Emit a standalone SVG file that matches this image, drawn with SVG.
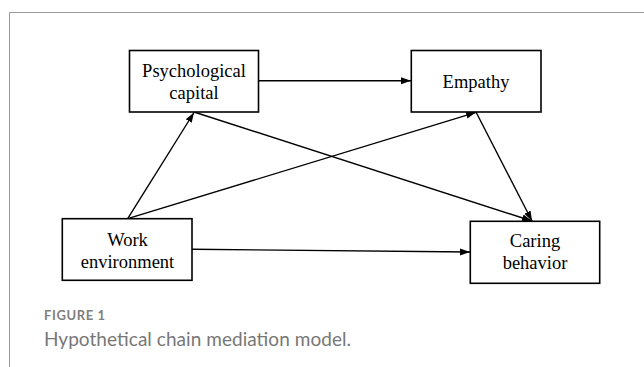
<svg xmlns="http://www.w3.org/2000/svg" width="644" height="367" viewBox="0 0 644 367">
<style>
.box{fill:#fff;stroke:#000;stroke-width:1.6}
.lbl{font-family:"Liberation Serif",serif;font-size:18.5px;fill:#000;text-anchor:middle}
.conn{stroke:#000;stroke-width:1.4;fill:none;marker-end:url(#ah)}
.frame{stroke:#999;stroke-width:1;fill:none}
.fig{font-family:Lato,"Open Sans",sans-serif;font-size:13px;font-weight:bold;fill:#808080;letter-spacing:0.6px}
.cap{font-family:Lato,"Open Sans",sans-serif;font-size:19px;fill:#777}
</style>
<defs>
<marker id="ah" viewBox="0 0 10 10" refX="10" refY="5" markerWidth="10" markerHeight="10" markerUnits="userSpaceOnUse" orient="auto">
<path d="M0,1.5 L10,5 L0,8.5 z" fill="#000"/>
</marker>
</defs>
<path class="frame" d="M9.5,367 V12.5 H644"/>
<g id="connectors">
<line class="conn" x1="258.5" y1="80.7" x2="411" y2="80.7"/>
<line class="conn" x1="127.7" y1="218.7" x2="194" y2="112.5"/>
<line class="conn" x1="127.7" y1="218.7" x2="476" y2="112.3"/>
<line class="conn" x1="194" y1="112" x2="532" y2="221"/>
<line class="conn" x1="476" y1="112" x2="532" y2="221"/>
<line class="conn" x1="192" y1="249.3" x2="470" y2="252"/>
</g>
<g id="psychological-capital">
<rect class="box" x="129.5" y="50.5" width="129" height="61.5"/>
<text class="lbl" x="194" y="76.7">Psychological</text>
<text class="lbl" x="194" y="99">capital</text>
</g>
<g id="empathy">
<rect class="box" x="411.3" y="50.5" width="129.7" height="61.5"/>
<text class="lbl" x="476" y="88.3">Empathy</text>
</g>
<g id="work-environment">
<rect class="box" x="62.3" y="218.7" width="129.7" height="61.6"/>
<text class="lbl" x="127.5" y="245.7">Work</text>
<text class="lbl" x="127.5" y="268.3">environment</text>
</g>
<g id="caring-behavior">
<rect class="box" x="470.3" y="221.3" width="129.4" height="62"/>
<text class="lbl" x="535" y="247.3">Caring</text>
<text class="lbl" x="535" y="269">behavior</text>
</g>
<text class="fig" x="44" y="320">FIGURE 1</text>
<text class="cap" x="44" y="345.7" textLength="307" lengthAdjust="spacing">Hypothetical chain mediation model.</text>
</svg>
